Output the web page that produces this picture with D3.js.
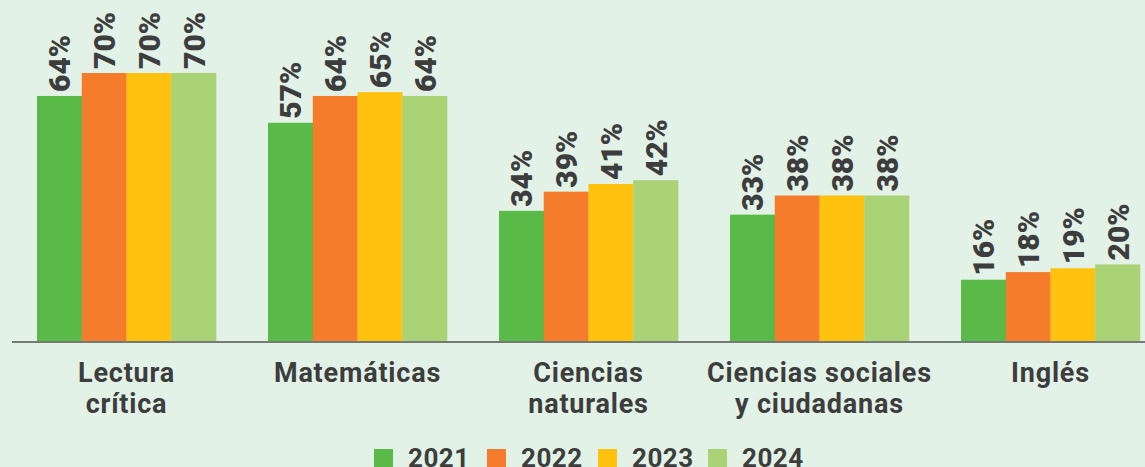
<!DOCTYPE html>
<html>
<head>
<meta charset="utf-8">
<script src="https://cdn.jsdelivr.net/npm/d3@7"></script>
<style>
  body { margin: 0; background: #e2f2e7; }
  svg { display: block; font-family: Roboto, "Noto Sans", sans-serif; }
</style>
</head>
<body>
<script>
// categories and series
var categories = [["Lectura", "crítica"], ["Matemáticas"], ["Ciencias", "naturales"], ["Ciencias sociales", "y ciudadanas"], ["Inglés"]];
var years = ["2021", "2022", "2023", "2024"];
var v2021 = [64, 57, 34, 33, 16];
var v2022 = [70, 64, 39, 38, 18];
var v2023 = [70, 65, 41, 38, 19];
var v2024 = [70, 64, 42, 38, 20];
var colors = ["#5aba47", "#f47c2a", "#ffc20e", "#aad375"];

var svgWidth = 1145, svgHeight = 467;
var baseY = 341;

var svg = d3.select("body").append("svg")
  .attr("width", svgWidth)
  .attr("height", svgHeight);

svg.append("rect").attr("width", svgWidth).attr("height", svgHeight).attr("fill", "#e2f2e7");

var catKeys = categories.map(d => d.join(" "));
var series = [v2021, v2022, v2023, v2024];

var x0 = d3.scaleBand()
  .domain(catKeys)
  .range([37, 1140])
  .paddingInner(0.225)
  .paddingOuter(0);

var x1 = d3.scaleBand()
  .domain(years)
  .range([0, x0.bandwidth()]);

var y = d3.scaleLinear()
  .domain([0, 70])
  .range([baseY, 73]);

var color = d3.scaleOrdinal().domain(years).range(colors);

// flatten into rows
var rows = [];
catKeys.forEach(function(c, i) {
  years.forEach(function(yr, j) {
    rows.push({ cat: c, year: yr, value: series[j][i] });
  });
});

svg.append("g").selectAll("rect")
  .data(rows)
  .enter()
  .append("rect")
  .attr("x", d => x0(d.cat) + x1(d.year))
  .attr("y", d => y(d.value))
  .attr("width", x1.bandwidth() + 0.3)
  .attr("height", d => baseY - y(d.value))
  .attr("fill", d => color(d.year));

// value labels, rotated
svg.append("g").selectAll("text")
  .data(rows)
  .enter()
  .append("text")
  .attr("transform", d => `translate(${x0(d.cat) + x1(d.year) + x1.bandwidth() / 2 + 11}, ${y(d.value) - 4}) rotate(-90)`)
  .attr("text-anchor", "start")
  .attr("font-size", 30)
  .attr("font-weight", 900)
  .attr("fill", "#3d3d3d")
  .text(d => d.value + "%");

// baseline
svg.append("line")
  .attr("x1", 12).attr("x2", svgWidth)
  .attr("y1", baseY + 1).attr("y2", baseY + 1)
  .attr("stroke", "#767a77")
  .attr("stroke-width", 2);

// category labels
var catText = svg.append("g").selectAll("text")
  .data(categories)
  .enter()
  .append("text")
  .attr("text-anchor", "middle")
  .attr("font-size", 27)
  .attr("font-weight", 700)
  .attr("letter-spacing", 0.8)
  .attr("fill", "#3d3d3d");

catText.selectAll("tspan")
  .data((d, i) => d.map(t => ({ t: t, key: catKeys[i] })))
  .enter()
  .append("tspan")
  .attr("x", d => x0(d.key) + x0.bandwidth() / 2)
  .attr("y", (d, i) => 382 + i * 31)
  .text(d => d.t);

// legend
var legendX = [374, 487, 598, 708];
var legend = svg.append("g").selectAll("g")
  .data(years)
  .enter()
  .append("g")
  .attr("transform", (d, i) => `translate(${legendX[i]}, 449)`);

legend.append("rect")
  .attr("width", 19).attr("height", 19)
  .attr("fill", d => color(d));

legend.append("text")
  .attr("x", 34)
  .attr("y", 18)
  .attr("font-size", 26)
  .attr("font-weight", 700)
  .attr("letter-spacing", 0.5)
  .attr("fill", "#3d3d3d")
  .text(d => d);
</script>
</body>
</html>
